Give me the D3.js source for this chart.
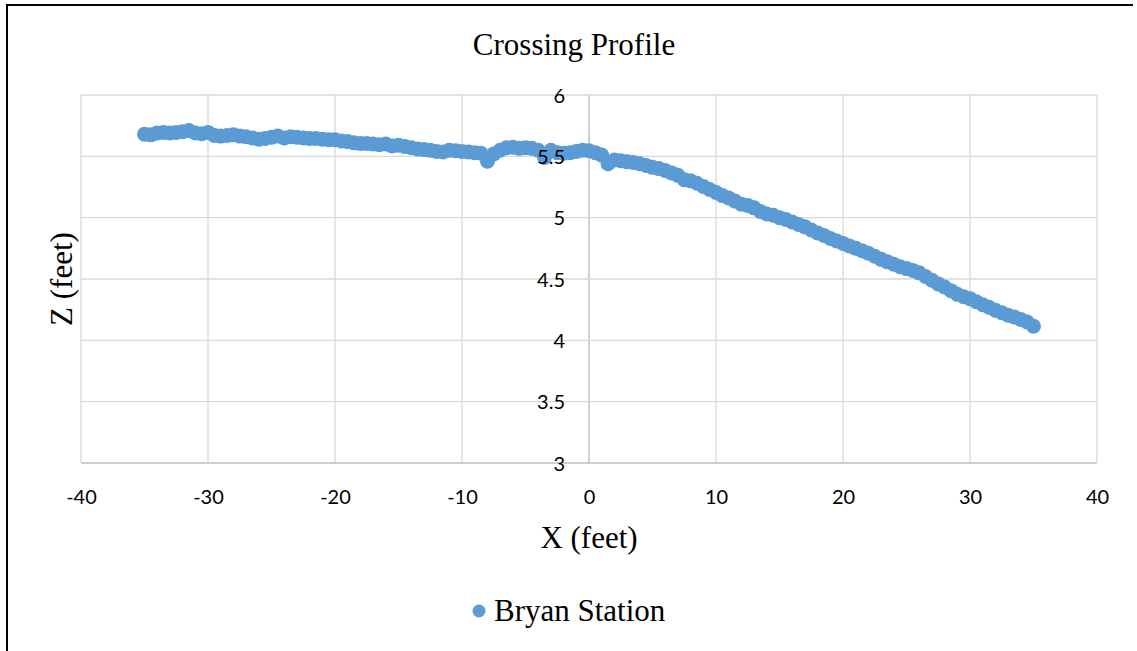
<!DOCTYPE html>
<html>
<head>
<meta charset="utf-8">
<script src="https://cdn.jsdelivr.net/npm/d3@7"></script>
<style>
  html, body { margin: 0; padding: 0; background: #fff; }
  svg { display: block; }
</style>
</head>
<body>
<svg id="chart" width="1137" height="651"></svg>
<script>
const chartTitle = "Crossing Profile";
const xAxisTitle = "X (feet)";
const yAxisTitle = "Z (feet)";
const seriesName = "Bryan Station";
const xTicks = [-40, -30, -20, -10, 0, 10, 20, 30, 40];
const yTicks = [3, 3.5, 4, 4.5, 5, 5.5, 6];

const xValues = [
  -35, -34.5, -34, -33.5, -33, -32.5, -32, -31.5, -31, -30.5,
  -30, -29.5, -29, -28.5, -28, -27.5, -27, -26.5, -26, -25.5,
  -25, -24.5, -24, -23.5, -23, -22.5, -22, -21.5, -21, -20.5,
  -20, -19.5, -19, -18.5, -18, -17.5, -17, -16.5, -16, -15.5,
  -15, -14.5, -14, -13.5, -13, -12.5, -12, -11.5, -11, -10.5,
  -10, -9.5, -9, -8.5, -8, -7.5, -7, -6.5, -6, -5.5,
  -5, -4.5, -4, -3.5, -3, -2.5, -2, -1.5, -1, -0.5,
  0, 0.5, 1, 1.5, 2, 2.5, 3, 3.5, 4, 4.5,
  5, 5.5, 6, 6.5, 7, 7.5, 8, 8.5, 9, 9.5,
  10, 10.5, 11, 11.5, 12, 12.5, 13, 13.5, 14, 14.5,
  15, 15.5, 16, 16.5, 17, 17.5, 18, 18.5, 19, 19.5,
  20, 20.5, 21, 21.5, 22, 22.5, 23, 23.5, 24, 24.5,
  25, 25.5, 26, 26.5, 27, 27.5, 28, 28.5, 29, 29.5,
  30, 30.5, 31, 31.5, 32, 32.5, 33, 33.5, 34, 34.5, 35
];
const zValues = [
  5.68, 5.675, 5.69, 5.695, 5.69, 5.695, 5.70, 5.71, 5.69, 5.685,
  5.695, 5.67, 5.665, 5.67, 5.675, 5.665, 5.66, 5.65, 5.64, 5.645,
  5.655, 5.665, 5.65, 5.66, 5.655, 5.65, 5.645, 5.645, 5.64, 5.635,
  5.635, 5.625, 5.62, 5.61, 5.605, 5.605, 5.60, 5.595, 5.60, 5.585,
  5.59, 5.58, 5.57, 5.56, 5.555, 5.55, 5.54, 5.535, 5.55, 5.545,
  5.54, 5.535, 5.53, 5.525, 5.46, 5.52, 5.55, 5.57, 5.575, 5.565,
  5.57, 5.565, 5.55, 5.49, 5.55, 5.53, 5.525, 5.53, 5.54, 5.55,
  5.545, 5.53, 5.51, 5.44, 5.47, 5.465, 5.455, 5.45, 5.44, 5.425,
  5.41, 5.40, 5.385, 5.365, 5.345, 5.31, 5.30, 5.28, 5.255, 5.23,
  5.205, 5.18, 5.16, 5.135, 5.11, 5.10, 5.08, 5.05, 5.03, 5.02,
  5.00, 4.985, 4.965, 4.945, 4.925, 4.90, 4.875, 4.855, 4.83, 4.81,
  4.79, 4.77, 4.75, 4.73, 4.71, 4.685, 4.66, 4.64, 4.62, 4.60,
  4.585, 4.57, 4.55, 4.52, 4.49, 4.46, 4.435, 4.405, 4.375, 4.355,
  4.34, 4.315, 4.29, 4.27, 4.245, 4.225, 4.205, 4.19, 4.17, 4.15, 4.115
];

const data = xValues.map((x, i) => ({ x, z: zValues[i] }));

const svg = d3.select("#chart");
const W = 1137, H = 651;
const plot = { left: 81, right: 1097, top: 95, bottom: 463 };
const color = "#5B9BD5";
const tickFont = "Lato, 'Open Sans', sans-serif";
const serif = "'Liberation Serif', 'Times New Roman', serif";

// outer frame (top and left edges visible)
svg.append("rect").attr("x", 0).attr("y", 0).attr("width", W).attr("height", H).attr("fill", "#fff");
svg.append("line").attr("x1", 6).attr("x2", 1133).attr("y1", 5).attr("y2", 5)
  .attr("stroke", "#000").attr("stroke-width", 2);
svg.append("line").attr("x1", 7).attr("x2", 7).attr("y1", 4).attr("y2", H)
  .attr("stroke", "#000").attr("stroke-width", 2);

const x = d3.scaleLinear().domain([-40, 40]).range([plot.left, plot.right]);
const y = d3.scaleLinear().domain([3, 6]).range([plot.bottom, plot.top]);

// gridlines
const grid = svg.append("g");
grid.selectAll(".vg").data(xTicks).join("line")
  .attr("x1", d => x(d)).attr("x2", d => x(d))
  .attr("y1", plot.top).attr("y2", plot.bottom)
  .attr("stroke", d => d === 0 ? "#bfbfbf" : "#d9d9d9")
  .attr("stroke-width", d => d === 0 ? 1.5 : 1.3);
grid.selectAll(".hg").data(yTicks).join("line")
  .attr("x1", plot.left).attr("x2", plot.right)
  .attr("y1", d => y(d)).attr("y2", d => y(d))
  .attr("stroke", d => d === 3 ? "#bfbfbf" : "#d9d9d9")
  .attr("stroke-width", d => d === 3 ? 1.5 : 1.3);

// points
svg.append("g").selectAll("circle").data(data).join("circle")
  .attr("cx", d => x(d.x)).attr("cy", d => y(d.z)).attr("r", 7.5)
  .attr("fill", color);

// x axis labels
const xAxis = d3.axisBottom(x).tickValues(xTicks).tickSize(0).tickPadding(0).tickFormat(d => String(d));
const gx = svg.append("g").attr("transform", `translate(0,${plot.bottom})`).call(xAxis);
gx.select(".domain").remove();
gx.selectAll("text").attr("dy", null).attr("y", 41)
  .attr("font-family", tickFont).attr("font-size", 20).attr("fill", "#000");

// y axis labels along x = 0 (drawn above the points)
const yAxis = d3.axisLeft(y).tickValues(yTicks).tickSize(0).tickPadding(0).tickFormat(d => String(d));
const gy = svg.append("g").attr("transform", `translate(${x(0) - 24},0)`).call(yAxis);
gy.select(".domain").remove();
gy.selectAll("text").attr("x", 0).attr("dy", "0.36em")
  .attr("font-family", tickFont).attr("font-size", 20).attr("fill", "#000");

// titles
svg.append("text").attr("x", 574).attr("y", 55).attr("text-anchor", "middle")
  .attr("font-family", serif).attr("font-size", 31).attr("fill", "#000").text(chartTitle);
svg.append("text").attr("x", (plot.left + plot.right) / 2).attr("y", 548).attr("text-anchor", "middle")
  .attr("font-family", serif).attr("font-size", 31).attr("fill", "#000").text(xAxisTitle);
svg.append("text").attr("transform", `translate(72,${(plot.top + plot.bottom) / 2}) rotate(-90)`)
  .attr("text-anchor", "middle")
  .attr("font-family", serif).attr("font-size", 31).attr("fill", "#000").text(yAxisTitle);

// legend
const lg = svg.append("g");
lg.append("circle").attr("cx", 479).attr("cy", 611).attr("r", 6.5).attr("fill", color);
lg.append("text").attr("x", 494).attr("y", 621)
  .attr("font-family", serif).attr("font-size", 31).attr("fill", "#000").text(seriesName);
</script>
</body>
</html>
